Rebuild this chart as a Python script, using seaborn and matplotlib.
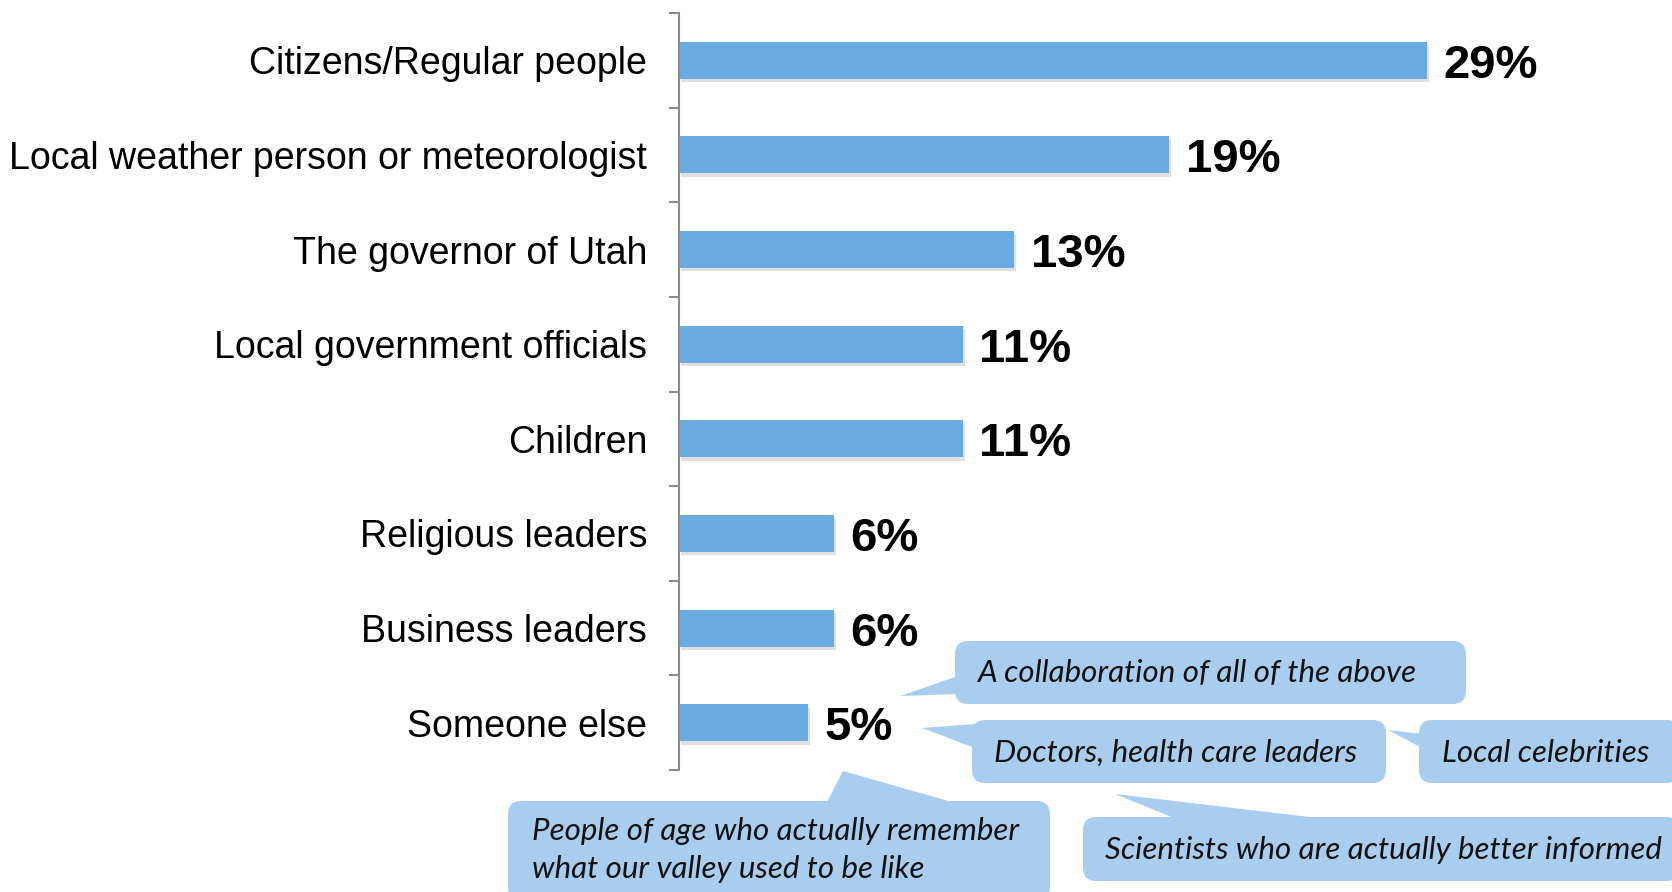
import matplotlib
matplotlib.use("Agg")
import matplotlib.pyplot as plt
import matplotlib.patheffects as pe
from matplotlib.patches import FancyBboxPatch, Polygon
import seaborn as sns
import pandas as pd

# Survey results: who respondents would trust most to deliver the message
categories = [
    "Citizens/Regular people",
    "Local weather person or meteorologist",
    "The governor of Utah",
    "Local government officials",
    "Children",
    "Religious leaders",
    "Business leaders",
    "Someone else",
]
shares = [29, 19, 13, 11, 11, 6, 6, 5]
value_labels = ["29%", "19%", "13%", "11%", "11%", "6%", "6%", "5%"]

# Write-in answers for "Someone else"
other_answers = [
    "A collaboration of all of the above",
    "Doctors, health care leaders",
    "Local celebrities",
    "People of age who actually remember\nwhat our valley used to be like",
    "Scientists who are actually better informed",
]

BAR_COLOR = "#6AABE2"
CALLOUT_COLOR = "#A9CDEE"
W, H = 1672, 892

sns.set_theme(style="white")
plt.rcParams["font.family"] = ["Liberation Sans", "DejaVu Sans"]

fig = plt.figure(figsize=(W / 100, H / 100), dpi=100)
ax = fig.add_axes([679 / W, 1 - 770 / H, 1 - 679 / W, (770 - 13) / H])

df = pd.DataFrame({"who": categories, "share": shares})
sns.barplot(data=df, x="share", y="who", orient="h", color=BAR_COLOR,
            saturation=1, width=0.39, linewidth=0, ax=ax)

for bar in ax.patches:
    bar.set_path_effects([
        pe.SimplePatchShadow(offset=(1.5, -2.5), shadow_rgbFace="#9a9a9a", alpha=0.3),
        pe.Normal(),
    ])

for i, (v, lab) in enumerate(zip(shares, value_labels)):
    ax.annotate(lab, xy=(v, i), xytext=(12, -4), textcoords="offset points",
                ha="left", va="center", fontsize=34, fontweight="bold",
                color="black")

ax.set_xlim(0, (W - 679) / 25.8)
ax.set_ylim(len(categories) - 0.5, -0.5)
ax.set_xlabel("")
ax.set_ylabel("")
ax.set_xticks([])

for s in ["top", "right", "bottom"]:
    ax.spines[s].set_visible(False)
ax.spines["left"].set_color("#8c8c8c")
ax.spines["left"].set_linewidth(1.5)

ax.set_yticks(range(len(categories)))
ax.set_yticklabels(categories, fontsize=27, color="black")
ax.tick_params(axis="y", which="major", length=0, pad=23)
ax.set_yticks([i - 0.5 for i in range(len(categories) + 1)], minor=True)
ax.tick_params(axis="y", which="minor", length=7.2, width=1.5,
               color="#8c8c8c", direction="out", left=True)


def fpt(x, y):
    """Pixel position measured from the top-left corner -> figure fraction."""
    return (x / W, 1 - y / H)


def callout(box, tail, text_xy, text):
    x0, y0, x1, y1 = box
    (bx, by) = fpt(x0, y1)
    patch = FancyBboxPatch((bx, by), (x1 - x0) / W, (y1 - y0) / H,
                           boxstyle="round,pad=0,rounding_size=0.008",
                           transform=fig.transFigure, facecolor=CALLOUT_COLOR,
                           edgecolor="none", mutation_aspect=W / H, zorder=3,
                           clip_on=False)
    fig.add_artist(patch)
    poly = Polygon([fpt(*p) for p in tail], closed=True,
                   transform=fig.transFigure, facecolor=CALLOUT_COLOR,
                   edgecolor="none", zorder=3, clip_on=False)
    fig.add_artist(poly)
    fig.text(*fpt(*text_xy), text, ha="left", va="center", fontsize=22.5,
             style="italic", family=["Lato", "DejaVu Sans"], color="#111111",
             linespacing=1.47, zorder=4)


callout((955, 641, 1466, 704), [(900, 696), (958, 676), (958, 694)],
        (977, 673), other_answers[0])
callout((972, 720, 1386, 783), [(922, 728), (975, 724), (975, 748)],
        (994, 753), other_answers[1])
callout((1419, 720, 1680, 783), [(1388, 730), (1422, 734), (1422, 748)],
        (1442, 753), other_answers[2])
callout((508, 801, 1050, 900), [(843, 771), (826, 804), (959, 804)],
        (532, 850), other_answers[3])
callout((1083, 817, 1680, 881), [(1115, 794), (1179, 820), (1335, 820)],
        (1105, 850), other_answers[4])

fig.savefig("out.png", dpi=100)
